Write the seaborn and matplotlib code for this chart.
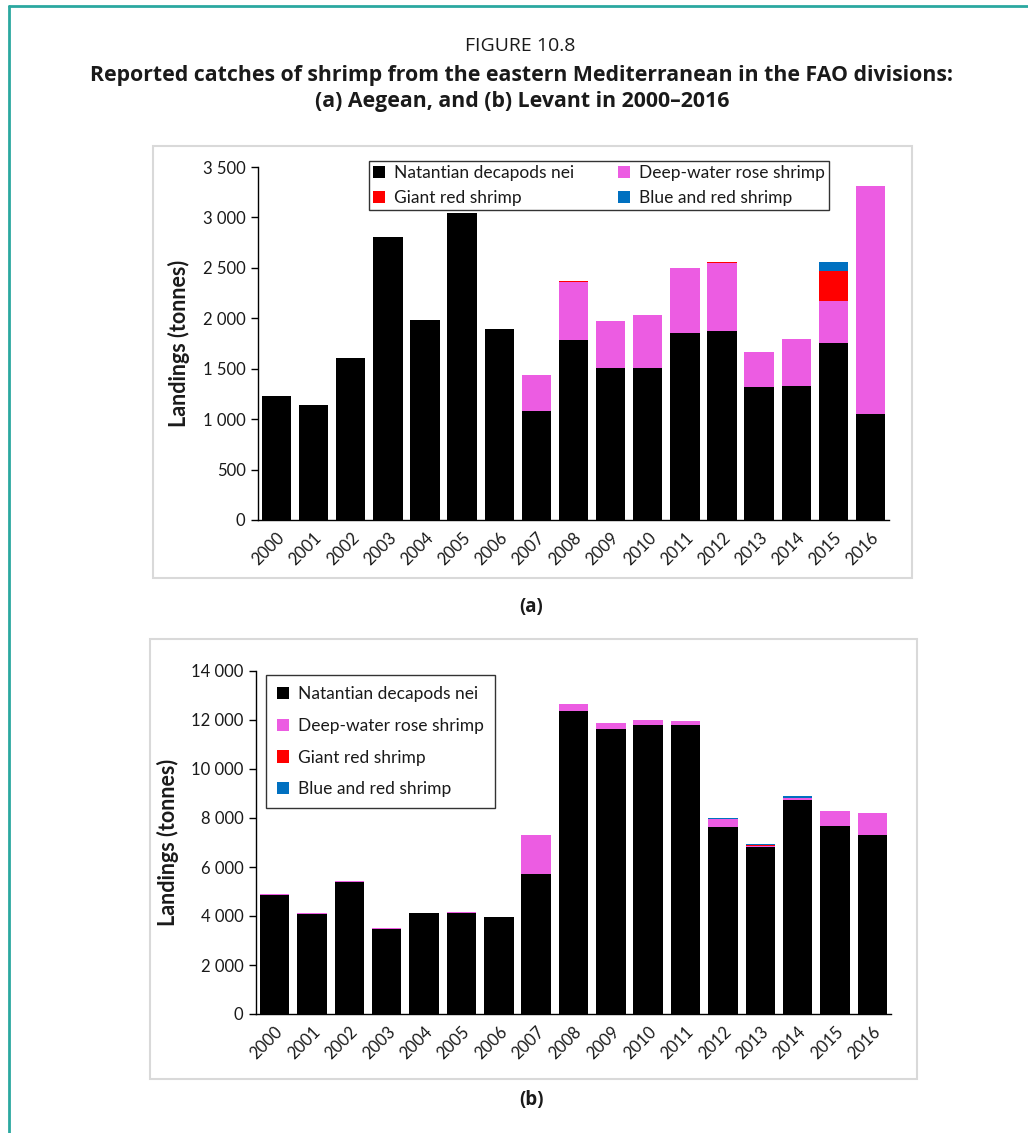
import numpy as np
import pandas as pd
import matplotlib
matplotlib.use("Agg")
import matplotlib.pyplot as plt
from matplotlib.patches import Patch, Rectangle
from matplotlib.lines import Line2D
from matplotlib.ticker import FuncFormatter, MultipleLocator
import seaborn as sns

# ---- data -----------------------------------------------------------------
years = [str(y) for y in range(2000, 2017)]

series_names = ["Natantian decapods nei", "Deep-water rose shrimp",
                "Giant red shrimp", "Blue and red shrimp"]

# (a) Aegean
natantian_a = [1230, 1140, 1605, 2805, 1985, 3042, 1895, 1085, 1782, 1505,
               1505, 1858, 1875, 1319, 1326, 1756, 1054]
deepwater_a = [0, 0, 0, 0, 0, 0, 0, 357, 582, 472, 529, 642, 678, 348, 466,
               416, 2259]
giantred_a = [0, 0, 0, 0, 0, 0, 0, 0, 10, 0, 0, 0, 10, 0, 0, 301, 0]
bluered_a = [0, 0, 0, 0, 0, 0, 0, 0, 0, 0, 0, 0, 0, 0, 0, 84, 0]

# (b) Levant
natantian_b = [4840, 4078, 5396, 3453, 4105, 4132, 3942, 5709, 12356, 11622,
               11785, 11785, 7640, 6823, 8750, 7654, 7313]
deepwater_b = [40, 27, 25, 37, 15, 28, 18, 1604, 286, 273, 204, 177, 312, 54,
               70, 612, 871]
giantred_b = [0, 0, 0, 0, 0, 0, 0, 0, 0, 0, 0, 0, 0, 15, 10, 0, 0]
bluered_b = [0, 0, 0, 0, 0, 0, 0, 0, 0, 0, 0, 0, 40, 50, 60, 0, 0]

colors = ["#000000", "#EC5CE2", "#FF0000", "#0070C0"]

# ---- style ----------------------------------------------------------------
sns.set_theme(style="white")
plt.rcParams["font.family"] = ["Lato", "DejaVu Sans"]
text_color = "#1a1a1a"
title_family = ["Open Sans", "DejaVu Sans"]

W, H = 1028, 1133
fig = plt.figure(figsize=(W / 100, H / 100), dpi=100)


def fx(px):
    return px / W


def fy(py):
    return 1 - py / H


def stacked(ax, layers):
    """Draw stacked bars by overlaying cumulative totals, top layer first."""
    cum = np.cumsum(np.array(layers, dtype=float), axis=0)
    for i in range(len(layers) - 1, -1, -1):
        df = pd.DataFrame({"year": years, "value": cum[i]})
        sns.barplot(data=df, x="year", y="value", color=colors[i],
                    saturation=1, width=0.79, linewidth=0, ax=ax,
                    errorbar=None)


def style_axes(ax, ymax, step):
    ax.set_ylim(0, ymax)
    ax.set_xlim(-0.5, len(years) - 0.5)
    ax.yaxis.set_major_locator(MultipleLocator(step))
    ax.yaxis.set_major_formatter(
        FuncFormatter(lambda v, p: f"{int(v):,}".replace(",", " ")))
    for s in ["top", "right"]:
        ax.spines[s].set_visible(False)
    for s in ["left", "bottom"]:
        ax.spines[s].set_color("#000000")
        ax.spines[s].set_linewidth(1.0)
    ax.tick_params(axis="y", direction="out", length=5, width=1,
                   color="#000000", labelsize=12, labelcolor=text_color,
                   pad=4, left=True)
    ax.tick_params(axis="x", length=0, labelsize=12, labelcolor=text_color,
                   pad=7)
    for lab in ax.get_xticklabels():
        lab.set_rotation(45)
        lab.set_ha("right")
        lab.set_va("top")
        lab.set_rotation_mode("anchor")
    ax.set_xlabel("")
    ax.set_ylabel("Landings (tonnes)", fontsize=15.5, fontweight="bold",
                  color=text_color, labelpad=9)
    ax.set_facecolor("white")


handles = [Patch(facecolor=c, edgecolor="none") for c in colors]

# ---- page decoration --------------------------------------------------------
teal = "#2BA8A0"
fig.add_artist(Line2D([fx(9), fx(9)], [fy(6), 0], color=teal, lw=2,
                      transform=fig.transFigure))
fig.add_artist(Line2D([fx(9), 1], [fy(6), fy(6)], color=teal, lw=2,
                      transform=fig.transFigure))

fig.text(fx(520), fy(46), "FIGURE 10.8", ha="center", va="center",
         fontsize=14, color=text_color, family=title_family)
fig.text(fx(522), fy(76),
         "Reported catches of shrimp from the eastern Mediterranean in the FAO divisions:",
         ha="center", va="center", fontsize=15.3, fontweight="bold",
         color=text_color, family=title_family)
fig.text(fx(522), fy(101), "(a) Aegean, and (b) Levant in 2000\u20132016",
         ha="center", va="center", fontsize=15.3, fontweight="bold",
         color=text_color, family=title_family)

# chart frames
for (x0, y0, x1, y1) in [(153, 146, 912, 578), (150, 639, 917, 1079)]:
    fig.add_artist(Rectangle((fx(x0), fy(y1)), fx(x1) - fx(x0), fy(y0) - fy(y1),
                             transform=fig.transFigure, fill=False,
                             edgecolor="#D9D9D9", lw=1.5))

# ---- panel (a) ----------------------------------------------------------------
ax_a = fig.add_axes([fx(258), fy(520), fx(889) - fx(258), fy(167) - fy(520)])
stacked(ax_a, [natantian_a, deepwater_a, giantred_a, bluered_a])
style_axes(ax_a, 3500, 500)
# two columns filled row by row
order_a = [0, 2, 1, 3]
leg_a = fig.legend([handles[i] for i in order_a],
                   [series_names[i] for i in order_a], loc="upper left",
                   bbox_to_anchor=(fx(369), fy(161)), ncol=2,
                   fontsize=12.5, frameon=True, fancybox=False,
                   edgecolor="#000000", handlelength=0.7, handleheight=0.7,
                   handletextpad=0.5, columnspacing=2.5, labelspacing=0.5,
                   borderpad=0.25, borderaxespad=0)
leg_a.get_frame().set_linewidth(1.0)
for t in leg_a.get_texts():
    t.set_color(text_color)

fig.text(fx(531), fy(607), "(a)", ha="center", va="center", fontsize=13.5,
         fontweight="bold", color=text_color, family=title_family)

# ---- panel (b) ----------------------------------------------------------------
ax_b = fig.add_axes([fx(256), fy(1014), fx(891) - fx(256), fy(671) - fy(1014)])
stacked(ax_b, [natantian_b, deepwater_b, giantred_b, bluered_b])
style_axes(ax_b, 14000, 2000)
leg_b = fig.legend(handles, series_names, loc="upper left",
                   bbox_to_anchor=(fx(266), fy(675)), ncol=1,
                   fontsize=12.5, frameon=True, fancybox=False,
                   edgecolor="#000000", handlelength=0.7, handleheight=0.7,
                   handletextpad=0.5, labelspacing=0.9,
                   borderpad=0.65, borderaxespad=0)
leg_b.get_frame().set_linewidth(1.0)
for t in leg_b.get_texts():
    t.set_color(text_color)

fig.text(fx(531), fy(1100), "(b)", ha="center", va="center", fontsize=13.5,
         fontweight="bold", color=text_color, family=title_family)

fig.savefig("out.png", dpi=100, facecolor="white")
